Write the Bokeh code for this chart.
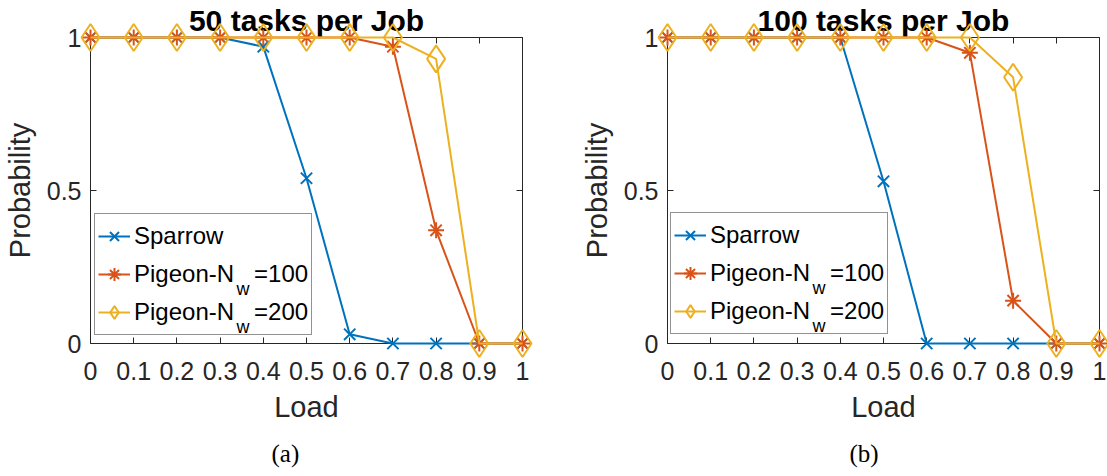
from bokeh.plotting import figure
from bokeh.models import (Range1d, LinearAxis, FixedTicker, Legend, LegendItem,
                          Label, NumeralTickFormatter, Title)
from bokeh.layouts import row
from bokeh.embed import file_html
from bokeh.resources import INLINE

# ---------------- data ----------------
load = [0.0, 0.1, 0.2, 0.3, 0.4, 0.5, 0.6, 0.7, 0.8, 0.9, 1.0]
x_tick_labels = ["0", "0.1", "0.2", "0.3", "0.4", "0.5", "0.6", "0.7", "0.8", "0.9", "1"]
y_ticks = [0.0, 0.5, 1.0]
y_tick_labels = ["0", "0.5", "1"]

series_names = ["Sparrow", "Pigeon-N", "Pigeon-N"]
series_suffix = ["", "=100", "=200"]

sparrow_50 = [1, 1, 1, 1, 0.97, 0.54, 0.03, 0, 0, 0, 0]
pigeon100_50 = [1, 1, 1, 1, 1, 1, 1, 0.97, 0.37, 0, 0]
pigeon200_50 = [1, 1, 1, 1, 1, 1, 1, 1, 0.93, 0, 0]

sparrow_100 = [1, 1, 1, 1, 1, 0.53, 0, 0, 0, 0, 0]
pigeon100_100 = [1, 1, 1, 1, 1, 1, 1, 0.95, 0.14, 0, 0]
pigeon200_100 = [1, 1, 1, 1, 1, 1, 1, 1, 0.87, 0, 0]

titles = ["50 tasks per Job", "100 tasks per Job"]
captions = ["(a)", "(b)"]

COLORS = ["#0072BD", "#D95319", "#EDB120"]
AX = "#262626"
SANS = "Liberation Sans"
SERIF = "Liberation Serif"


def style_axis(ax, show_labels=True):
    ax.axis_line_color = AX
    ax.axis_line_width = 1
    ax.major_tick_line_color = AX
    ax.major_tick_line_width = 1
    ax.major_tick_in = 6
    ax.major_tick_out = 0
    ax.minor_tick_line_color = None
    ax.major_label_text_font = SANS
    ax.major_label_text_font_size = "25px" if show_labels else "0px"
    ax.major_label_text_color = AX
    ax.axis_label_text_font = SANS
    ax.axis_label_text_font_size = "29px"
    ax.axis_label_text_font_style = "normal"
    ax.axis_label_text_color = AX
    if not show_labels:
        ax.major_label_standoff = 0


def make_panel(title, caption, sparrow, p100, p200, left, fw, total_w, leg_x, leg_y,
               cap_offset):
    fh = 306
    top = 37
    p = figure(frame_width=fw, frame_height=fh,
               min_border_left=left, min_border_right=total_w - left - fw,
               min_border_top=top, min_border_bottom=476 - top - fh,
               x_range=Range1d(0, 1), y_range=Range1d(0, 1),
               x_axis_type=None, y_axis_type=None,
               output_backend="svg", toolbar_location=None)
    p.outline_line_color = None
    p.background_fill_color = "white"
    p.border_fill_color = "white"

    p.title.text = title
    p.title.text_font = SANS
    p.title.text_font_size = "30px"
    p.title.text_font_style = "bold"
    p.title.text_color = "black"
    p.title.align = "center"
    p.title.standoff = 2

    xover = {t: l for t, l in zip(load, x_tick_labels)}
    yover = {t: l for t, l in zip(y_ticks, y_tick_labels)}

    bx = LinearAxis(ticker=FixedTicker(ticks=load),
                    formatter=NumeralTickFormatter(format="0.[0]"),
                    major_label_overrides=xover, axis_label="Load")
    style_axis(bx)
    bx.major_label_standoff = 18
    bx.axis_label_standoff = 8
    p.add_layout(bx, "below")

    ly = LinearAxis(ticker=FixedTicker(ticks=y_ticks),
                    formatter=NumeralTickFormatter(format="0.[0]"),
                    major_label_overrides=yover, axis_label="Probability")
    style_axis(ly)
    ly.major_label_standoff = 9
    ly.axis_label_standoff = 8
    p.add_layout(ly, "left")

    tx = LinearAxis(ticker=FixedTicker(ticks=load),
                    major_label_overrides={t: "" for t in load})
    style_axis(tx, False)
    p.add_layout(tx, "above")

    ry = LinearAxis(ticker=FixedTicker(ticks=y_ticks),
                    major_label_overrides={t: "" for t in y_ticks})
    style_axis(ry, False)
    p.add_layout(ry, "right")

    cap = Title(text=caption, align="left", offset=cap_offset, text_font=SERIF,
                text_font_size="25px", text_font_style="normal", text_color="black",
                standoff=24)
    p.add_layout(cap, "below")

    items = []
    markers = ["x", "asterisk", "diamond"]
    sizes = [16, 16, 27]
    for i, ys in enumerate([sparrow, p100, p200]):
        ln = p.line(load, ys, line_color=COLORS[i], line_width=2, level="overlay")
        sc = p.scatter(load, ys, marker=markers[i], size=sizes[i],
                       line_color=COLORS[i], fill_color=None, line_width=2,
                       level="overlay")
        lab = series_names[i] + ("\u00a0\u00a0\u00a0" + series_suffix[i] if series_suffix[i] else "")
        items.append(LegendItem(label=lab, renderers=[ln, sc]))

    pad, gw, gh, sp, stand = 3, 32, 38, 0, 4
    legend = Legend(items=items, location=(leg_x, leg_y), margin=0, padding=pad,
                    spacing=sp, glyph_width=gw, glyph_height=gh, label_height=gh,
                    label_standoff=stand, border_line_color=AX, border_line_width=1,
                    background_fill_color=None, background_fill_alpha=0,
                    label_text_font=SANS, label_text_font_size="24px",
                    label_text_color="black")
    p.add_layout(legend)

    # subscript "w" for the Pigeon entries (legend is placed in screen px)
    leg_h = 2 * pad + 3 * gh + 2 * sp
    wx = leg_x + pad + gw + stand + 103
    for r in (1, 2):
        center = leg_y + leg_h - pad - gh / 2 - r * (gh + sp)
        wy = center - 13
        p.add_layout(Label(x=wx / fw, y=wy / fh, text="w", level="overlay",
                           text_font=SANS, text_font_size="18px", text_color="black",
                           text_baseline="alphabetic", text_align="left"))
    return p


p1 = make_panel(titles[0], captions[0], sparrow_50, pigeon100_50, pigeon200_50,
                89, 432, 560, 4, 8, 181)
p2 = make_panel(titles[1], captions[1], sparrow_100, pigeon100_100, pigeon200_100,
                106, 432, 547, 3, 9, 182)

layout = row(p1, p2, spacing=0)
open("out.html", "w").write(file_html(layout, INLINE))
